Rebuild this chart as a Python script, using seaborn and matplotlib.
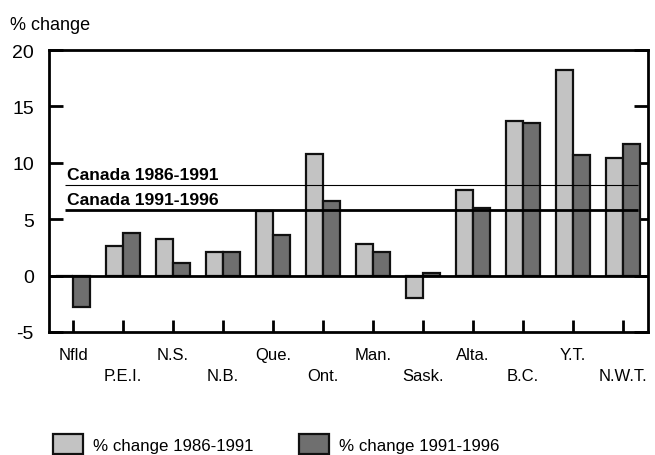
import numpy as np
import pandas as pd
import matplotlib
matplotlib.use("Agg")
import matplotlib.pyplot as plt
import seaborn as sns

# Data
provinces = ['Nfld', 'P.E.I.', 'N.S.', 'N.B.', 'Que.', 'Ont.',
             'Man.', 'Sask.', 'Alta.', 'B.C.', 'Y.T.', 'N.W.T.']
change_86_91 = [0.0, 2.6, 3.2, 2.1, 5.7, 10.8, 2.8, -2.0, 7.6, 13.7, 18.2, 10.4]
change_91_96 = [-2.8, 3.8, 1.1, 2.1, 3.6, 6.6, 2.1, 0.2, 6.0, 13.5, 10.7, 11.7]
series_names = ['% change 1986-1991', '% change 1991-1996']
canada_86_91 = 8.0
canada_91_96 = 5.8

light = '#c3c3c3'
dark = '#6f6f6f'

df = pd.DataFrame({
    'province': provinces * 2,
    'value': change_86_91 + change_91_96,
    'period': [series_names[0]] * len(provinces) + [series_names[1]] * len(provinces),
})

sns.set_style('white')
plt.rcParams['font.family'] = ['Liberation Sans', 'DejaVu Sans']
plt.rcParams['text.color'] = 'black'

fig = plt.figure(figsize=(6.55, 4.56), dpi=100)
ax = fig.add_axes([0.075, 0.27, 0.914, 0.618])

sns.barplot(data=df, x='province', y='value', hue='period', order=provinces,
            palette=[light, dark], width=0.68, edgecolor='#111111',
            linewidth=1.6, ax=ax, legend=True)

# reference lines for Canada
ax.hlines(canada_86_91, -0.16, 11.3, color='black', linewidth=0.8, zorder=5)
ax.hlines(canada_91_96, -0.16, 11.3, color='black', linewidth=2.0, zorder=5)
ax.text(-0.12, canada_86_91 + 0.3, 'Canada 1986-1991', fontsize=12.6,
        fontweight='bold', va='bottom', ha='left', color='black')
ax.text(-0.12, canada_91_96 + 0.3, 'Canada 1991-1996', fontsize=12.6,
        fontweight='bold', va='bottom', ha='left', color='black')

ax.axhline(0, color='black', linewidth=2.0, zorder=4)

ax.set_xlim(-0.48, 11.5)
ax.set_ylim(-5, 20)
ax.set_yticks([-5, 0, 5, 10, 15, 20])
ax.set_yticklabels(['-5', '0', '5', '10', '15', '20'], fontsize=14)
ax.set_xticks(range(len(provinces)))
ax.set_xticklabels([p if i % 2 == 0 else '\n' + p for i, p in enumerate(provinces)],
                   fontsize=12, linespacing=1.5)
ax.set_xlabel('')
ax.set_ylabel('')

for sp in ax.spines.values():
    sp.set_visible(True)
    sp.set_linewidth(2.0)
    sp.set_color('black')

ax.tick_params(axis='x', direction='in', length=9, width=2, pad=11,
               bottom=True, top=False, colors='black')
ax.tick_params(axis='y', direction='in', length=10, width=2, pad=11,
               left=True, right=True, colors='black')

fig.text(0.015, 0.925, '% change', fontsize=13, ha='left', va='bottom', color='black')

handles, labels = ax.get_legend_handles_labels()
ax.legend_.remove()
fig.legend(handles, labels, loc='lower left', bbox_to_anchor=(0.058, -0.032),
           ncol=2, frameon=False, fontsize=12.2, handlelength=1.75,
           handleheight=1.45, columnspacing=2.7, handletextpad=0.6,
           labelcolor='black')

fig.savefig('out.png', dpi=100)
